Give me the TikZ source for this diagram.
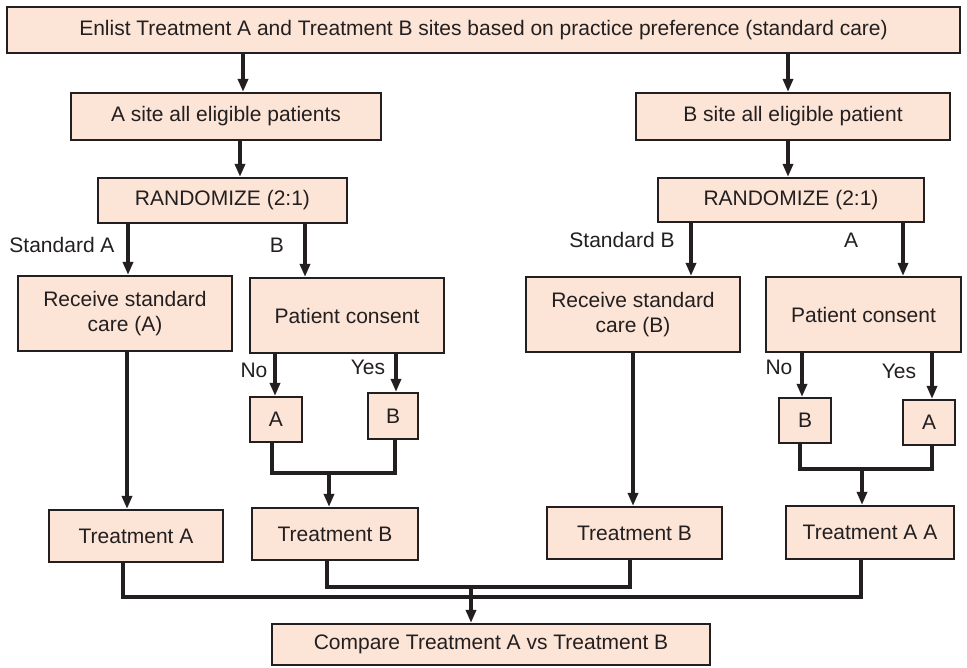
\documentclass[tikz,border=0pt]{standalone}
\usepackage{fontspec}
\setmainfont{Liberation Sans}
\usetikzlibrary{arrows.meta}
\definecolor{peach}{RGB}{252,228,214}
\definecolor{ink}{RGB}{35,31,32}
\tikzset{
  box/.style={draw=ink, line width=2.2pt, fill=peach, align=center, inner sep=0pt,
    font=\fontsize{21}{25}\selectfont, text=ink},
  arr/.style={draw=ink, line width=3.4pt, -{Triangle[length=13pt,width=10pt]}},
  ln/.style={draw=ink, line width=3.4pt},
  lbl/.style={font=\fontsize{21}{25}\selectfont, text=ink, inner sep=0pt}
}
\begin{document}
\begin{tikzpicture}[x=1pt,y=1pt]
\useasboundingbox (0,0) rectangle (967,-668);
% boxes
\node[box, minimum width=953, minimum height=46] (top) at (483.5,-30) {Enlist Treatment A and Treatment B sites based on practice preference (standard care)};
\node[box, minimum width=310, minimum height=47] (asite) at (226,-116.5) {A site all eligible patients};
\node[box, minimum width=314, minimum height=47] (bsite) at (793,-116.5) {B site all eligible patient};
\node[box, minimum width=249, minimum height=45] (randA) at (222.5,-200.5) {RANDOMIZE (2:1)};
\node[box, minimum width=266, minimum height=44] (randB) at (791,-200) {RANDOMIZE (2:1)};
\node[box, minimum width=214, minimum height=75] (recA) at (125,-313.5) {Receive standard\\care (A)};
\node[box, minimum width=194, minimum height=75] (conA) at (347,-315.5) {Patient consent};
\node[box, minimum width=214, minimum height=75] (recB) at (633,-314.5) {Receive standard\\care (B)};
\node[box, minimum width=195, minimum height=75] (conB) at (863.5,-314.5) {Patient consent};
\node[box, minimum width=52, minimum height=45] (sA1) at (276,-419.5) {A};
\node[box, minimum width=50, minimum height=46] (sB1) at (393,-416) {B};
\node[box, minimum width=52, minimum height=45] (sB2) at (805,-420.5) {B};
\node[box, minimum width=52, minimum height=45] (sA2) at (929,-422.5) {A};
\node[box, minimum width=174, minimum height=52] (tA) at (136,-536) {Treatment A};
\node[box, minimum width=166, minimum height=52] (tB1) at (335,-534) {Treatment B};
\node[box, minimum width=175, minimum height=52] (tB2) at (634.5,-533) {Treatment B};
\node[box, minimum width=168, minimum height=53] (tAA) at (870,-532.5) {Treatment A A};
\node[box, minimum width=438, minimum height=41] (cmp) at (491,-644.5) {Compare Treatment A vs Treatment B};
% labels
\node[lbl] (lsa) at (62,-245) {Standard A};
\node[lbl] (lb) at (277,-245) {B};
\node[lbl] (lno1) at (254,-370) {No};
\node[lbl] (lyes1) at (368,-367) {Yes};
\node[lbl] (lsb) at (622,-240) {Standard B};
\node[lbl] (la) at (851,-240) {A};
\node[lbl] (lno2) at (779,-367) {No};
\node[lbl] (lyes2) at (899,-371) {Yes};
% arrows
\draw[arr] (top.south -| 243,0) -- (asite.north -| 243,0);
\draw[arr] (top.south -| 788,0) -- (bsite.north -| 788,0);
\draw[arr] (asite.south -| 240,0) -- (randA.north -| 240,0);
\draw[arr] (bsite.south -| 788,0) -- (randB.north -| 788,0);
\draw[arr] (randA.south -| 128,0) -- (recA.north -| 128,0);
\draw[arr] (randA.south -| 305,0) -- (conA.north -| 305,0);
\draw[arr] (randB.south -| 691,0) -- (recB.north -| 691,0);
\draw[arr] (randB.south -| 903,0) -- (conB.north -| 903,0);
\draw[arr] (conA.south -| 275,0) -- (sA1.north -| 275,0);
\draw[arr] (conA.south -| 396,0) -- (sB1.north -| 396,0);
\draw[arr] (conB.south -| 802,0) -- (sB2.north -| 802,0);
\draw[arr] (conB.south -| 932,0) -- (sA2.north -| 932,0);
\draw[arr] (recA.south -| 127,0) -- (tA.north -| 127,0);
\draw[arr] (recB.south -| 633,0) -- (tB2.north -| 633,0);
% joins
\coordinate (jl) at (329,-473);
\coordinate (jr) at (862,-469);
\coordinate (jb) at (471,-587);
\draw[ln] (sA1.south -| 272,0) |- (jl) -| (sB1.south -| 395,0);
\draw[arr] (jl) -- (tB1.north -| jl);
\draw[ln] (sB2.south -| 800,0) |- (jr) -| (sA2.south -| 932,0);
\draw[arr] (jr) -- (tAA.north -| jr);
\draw[ln] (tB1.south -| 327,0) |- (jb) -| (tB2.south -| 630,0);
\coordinate (jo) at (471,-597);
\draw[ln] (tA.south -| 123,0) |- (jo) -| (tAA.south -| 861,0);
\draw[arr] (jb) -- (cmp.north -| jb);
\end{tikzpicture}
\end{document}
